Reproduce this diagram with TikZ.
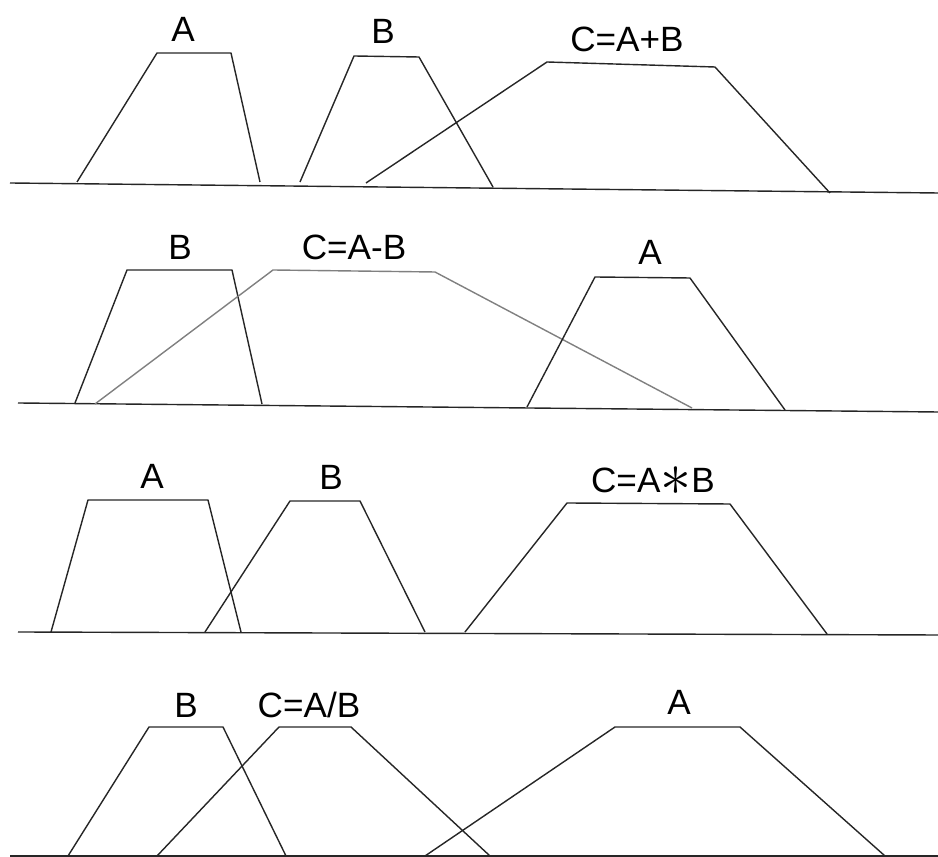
\documentclass[tikz,border=0pt]{standalone}
\usepackage{fontspec}
\setmainfont{Liberation Sans}
\begin{document}
\begin{tikzpicture}[x=0.02cm,y=-0.02cm]
\tikzstyle{fz}=[line width=0.8pt,black!85,line join=round]
\tikzstyle{fc}=[fz,black!50]
\tikzstyle{lbl}=[font=\fontsize{20}{20}\selectfont,inner sep=0pt,anchor=base]
\useasboundingbox (0,0) rectangle (938,857);

% C = A + B
\draw[fz] (10,183) -- (938,193);
\draw[fz] (77,182) -- (157,53) -- (231,53) -- (260,182);
\draw[fz] (300,182) -- (354,56) -- (419,57) -- (493,187);
\draw[fz] (366,183) -- (547,62) -- (715,67) -- (830,193);
\node[lbl] (a1) at (183,42) {A};
\node[lbl] (b1) at (383,44) {B};
\node[lbl] (c1) at (627,52) {C=A+B};

% C = A - B
\draw[fz] (18,403) -- (938,412);
\draw[fz] (75,403) -- (127,270) -- (232,270) -- (262,404);
\draw[fc] (95,404) -- (273,270) -- (435,272) -- (692,408);
\draw[fz] (527,407) -- (595,277) -- (690,278) -- (785,410);
\node[lbl] (b2) at (180,260) {B};
\node[lbl] (c2) at (354,260) {C=A-B};
\node[lbl] (a2) at (650,265) {A};

% C = A * B
\draw[fz] (18,632) -- (938,635);
\draw[fz] (51,632) -- (88,500) -- (208,500) -- (241,632);
\draw[fz] (205,632) -- (290,501) -- (360,501) -- (425,632);
\draw[fz] (465,632) -- (567,503) -- (730,504) -- (827,634);
\node[lbl] (a3) at (152,489) {A};
\node[lbl] (b3) at (331,490) {B};
\node[lbl] (c3) at (653,493) {C=A\raisebox{-1.5pt}{\scalebox{1.7}{$\ast$}}B};

% C = A / B
\draw[fz] (10,856) -- (938,856);
\draw[fz] (68,856) -- (149,727) -- (223,727) -- (286,856);
\draw[fz] (157,856) -- (279,727) -- (351,727) -- (490,856);
\draw[fz] (425,856) -- (615,727) -- (740,727) -- (885,856);
\node[lbl] (b4) at (186,718) {B};
\node[lbl] (c4) at (309,718) {C=A/B};
\node[lbl] (a4) at (679,715) {A};
\end{tikzpicture}
\end{document}
